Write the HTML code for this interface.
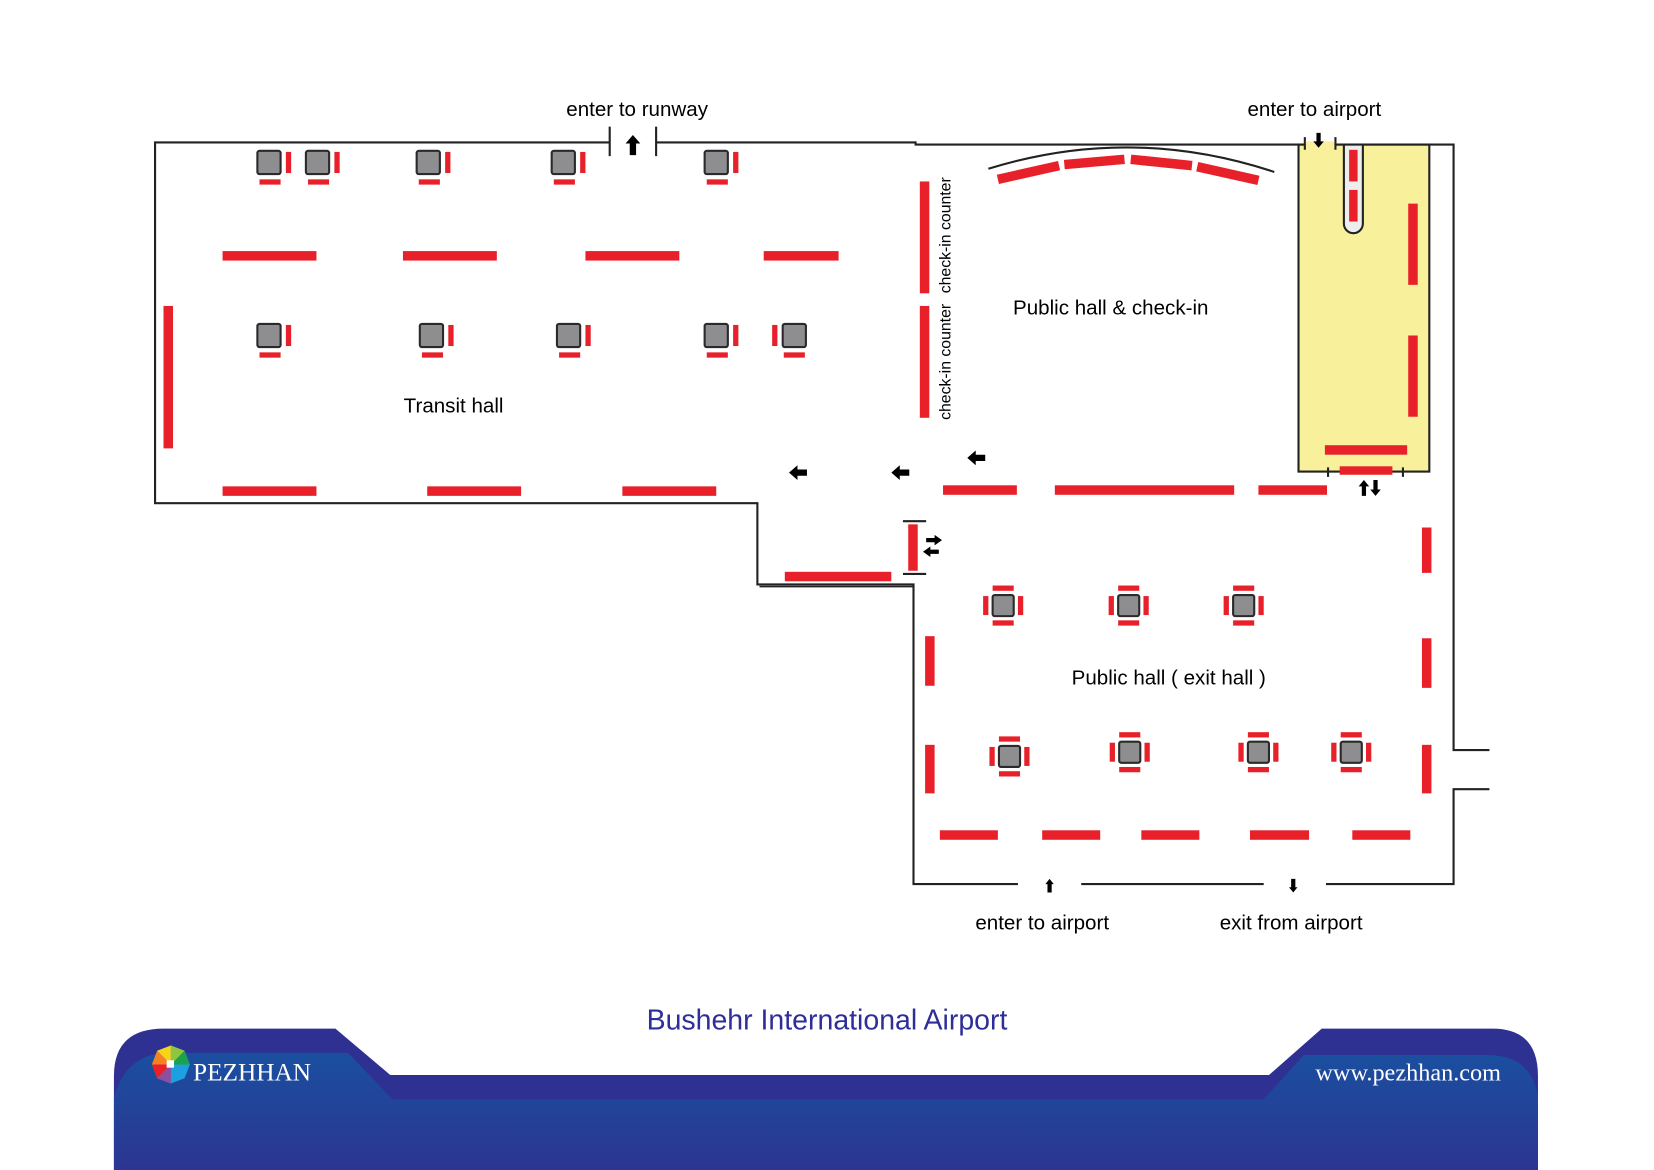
<!DOCTYPE html>
<html><head><meta charset="utf-8"><style>
html,body{margin:0;padding:0;background:#fff}
svg{display:block}
</style></head><body>
<svg width="1654" height="1170" viewBox="0 0 1568 1109" preserveAspectRatio="none" xmlns="http://www.w3.org/2000/svg" font-family="Liberation Sans, sans-serif">
<defs>
<linearGradient id="bg" x1="0" y1="0" x2="0" y2="1"><stop offset="0" stop-color="#1a4f9f"/><stop offset="1" stop-color="#2c3592"/></linearGradient>
<g id="s1"><rect x="0" y="0" width="22" height="22" rx="2" fill="#8e8e90" stroke="#2a2a2a" stroke-width="2"/><rect x="27" y="1" width="5" height="20" fill="#e8202a"/><rect x="2" y="27" width="20" height="5" fill="#e8202a"/></g>
<g id="s2"><rect x="10" y="0" width="22" height="22" rx="2" fill="#8e8e90" stroke="#2a2a2a" stroke-width="2"/><rect x="0" y="1" width="5" height="20" fill="#e8202a"/><rect x="11" y="27" width="20" height="5" fill="#e8202a"/></g>
<g id="s4"><rect x="-10" y="-10" width="20" height="20" rx="2" fill="#8e8e90" stroke="#2a2a2a" stroke-width="2"/><rect x="-10" y="-19" width="20" height="5" fill="#e8202a"/><rect x="-10" y="14" width="20" height="5" fill="#e8202a"/><rect x="-19" y="-9" width="5" height="18" fill="#e8202a"/><rect x="14" y="-9" width="5" height="18" fill="#e8202a"/></g>
<path id="al" d="M0,0 l8,-7 v4 h9 v6 h-9 v4 z" fill="#000"/>
</defs>

<rect x="1231" y="137" width="124" height="310" fill="#f8f09a" stroke="#222" stroke-width="2"/>
<path d="M1274,137 v75 a9,9 0 0 0 18,0 v-75" fill="#eee" stroke="#222" stroke-width="2"/>

<g stroke="#222" stroke-width="2" fill="none">
<path d="M578,135 H147 V477 H718 V554 H866 V838 H965"/>
<path d="M622,135 H868 V137 H1378 V711 H1412"/>
<path d="M1412,748 H1378 V838 H1257"/>
<path d="M1025,838 H1198"/>
<path d="M578,120 V148 M622,120 V148"/>
<path d="M720,556 H866" stroke-width="1.5"/>
<path d="M856,494 H878 M856,544 H878"/>
<path d="M1259,443 V452 M1330,443 V452 M1237,130 V142 M1266,130 V142"/>
<path d="M937,160 Q1072,118 1208,163" stroke-width="2"/>
</g>
<rect x="1238" y="134" width="27" height="5" fill="#f8f09a"/>

<g fill="#e8202a">
<rect x="211" y="238" width="89" height="9"/><rect x="382" y="238" width="89" height="9"/><rect x="555" y="238" width="89" height="9"/><rect x="724" y="238" width="71" height="9"/>
<rect x="211" y="461" width="89" height="9"/><rect x="405" y="461" width="89" height="9"/><rect x="590" y="461" width="89" height="9"/>
<rect x="155" y="290" width="9" height="135"/>
<rect x="872" y="172" width="9" height="106"/><rect x="872" y="290" width="9" height="106"/>
<rect x="894" y="460" width="70" height="9"/><rect x="1000" y="460" width="170" height="9"/><rect x="1193" y="460" width="65" height="9"/>
<rect x="1270" y="442" width="50" height="8"/><rect x="1256" y="422" width="78" height="9"/>
<rect x="1335" y="193" width="9" height="77"/><rect x="1335" y="318" width="9" height="77"/>
<rect x="1279" y="142" width="8" height="30"/><rect x="1279" y="180" width="8" height="30"/>
<rect x="744" y="542" width="101" height="9"/>
<rect x="861" y="497" width="9" height="44"/>
<rect x="1348" y="500" width="9" height="43"/><rect x="1348" y="605" width="9" height="47"/><rect x="1348" y="706" width="9" height="46"/>
<rect x="877" y="603" width="9" height="47"/><rect x="877" y="706" width="9" height="46"/>
<rect x="891" y="787" width="55" height="9"/><rect x="988" y="787" width="55" height="9"/><rect x="1082" y="787" width="55" height="9"/><rect x="1185" y="787" width="56" height="9"/><rect x="1282" y="787" width="55" height="9"/>
</g>
<g fill="none" stroke="#e8202a" stroke-width="9">
<path d="M946,170 L1004,157"/><path d="M1009,156 L1066,151"/><path d="M1072,151 L1130,157"/><path d="M1135,158 L1193,171"/>
</g>

<use href="#s1" x="244" y="143"/><use href="#s1" x="290" y="143"/><use href="#s1" x="395" y="143"/><use href="#s1" x="523" y="143"/><use href="#s1" x="668" y="143"/>
<use href="#s1" x="244" y="307"/><use href="#s1" x="398" y="307"/><use href="#s1" x="528" y="307"/><use href="#s1" x="668" y="307"/><use href="#s2" x="732" y="307"/>
<use href="#s4" x="951" y="574"/><use href="#s4" x="1070" y="574"/><use href="#s4" x="1179" y="574"/>
<use href="#s4" x="957" y="717"/><use href="#s4" x="1071" y="713"/><use href="#s4" x="1193" y="713"/><use href="#s4" x="1281" y="713"/>

<use href="#al" x="748" y="448"/><use href="#al" x="845" y="448"/><use href="#al" x="917" y="434"/>
<path d="M600,128 l-7,8 h4 v11 h6 v-11 h4 z" fill="#000"/>
<path d="M1250,140 l-5,-6 h3 v-8 h4 v8 h3 z" fill="#000"/>
<path d="M1293,455 l-5,6 h3 v9 h4 v-9 h3 z M1304,470 l-5,-6 h3 v-9 h4 v9 h3 z" fill="#000"/>
<path d="M893,512 l-7,-5 v3 h-8 v4 h8 v3 z M875,523 l7,-5 v3 h8 v4 h-8 v3 z" fill="#000"/>
<path d="M995,833 l-4,5 h2 v8 h4 v-8 h2 z" fill="#000"/>
<path d="M1226,846 l-4,-5 h2 v-8 h4 v8 h2 z" fill="#000"/>

<g font-size="19.5" fill="#000">
<text x="604" y="110" text-anchor="middle">enter to runway</text>
<text x="1246" y="110" text-anchor="middle">enter to airport</text>
<text x="1053" y="298" text-anchor="middle">Public hall &amp; check-in</text>
<text x="430" y="391" text-anchor="middle">Transit hall</text>
<text x="1108" y="649" text-anchor="middle">Public hall ( exit hall )</text>
<text x="988" y="881" text-anchor="middle">enter to airport</text>
<text x="1224" y="881" text-anchor="middle">exit from airport</text>
<text font-size="15" transform="translate(901,278) rotate(-90)">check-in counter</text>
<text font-size="15" transform="translate(901,398) rotate(-90)">check-in counter</text>
</g>
<text x="784" y="976" text-anchor="middle" font-size="27" fill="#2e2e9a">Bushehr International Airport</text>

<path d="M108,1109 V1020 Q108,975 155,975 H318 L370,1019 H1203 L1253,975 H1415 Q1458,975 1458,1020 V1109 Z" fill="#2e3192"/>
<path d="M108,1109 V1040 Q120,998 160,998 H330 L372,1042 H1198 L1236,1000 H1410 Q1452,1000 1458,1040 V1109 Z" fill="url(#bg)"/>
<g transform="translate(162,1009)">
<polygon points="0,-18 13,-13 18,0 13,13 0,18 -13,13 -18,0 -13,-13" fill="#1e9fe0"/>
<polygon points="0,0 -13,-13 0,-18" fill="#f7d417"/><polygon points="0,0 0,-18 13,-13" fill="#8dc63f"/>
<polygon points="0,0 13,-13 18,0" fill="#1aa34a"/><polygon points="0,0 -18,0 -13,-13" fill="#f58220"/>
<polygon points="0,0 -13,13 -18,0" fill="#e8202a"/><polygon points="0,0 0,18 -13,13" fill="#8e4fa0"/>
<rect x="-4" y="-4" width="7" height="7" fill="#fff"/>
</g>
<text x="183" y="1024" style="font-family:'Liberation Serif',serif" font-size="24" fill="#fff">PEZHHAN</text>
<text x="1423" y="1024" text-anchor="end" style="font-family:'Liberation Serif',serif" font-size="23" fill="#fff">www.pezhhan.com</text>
</svg>
</body></html>
